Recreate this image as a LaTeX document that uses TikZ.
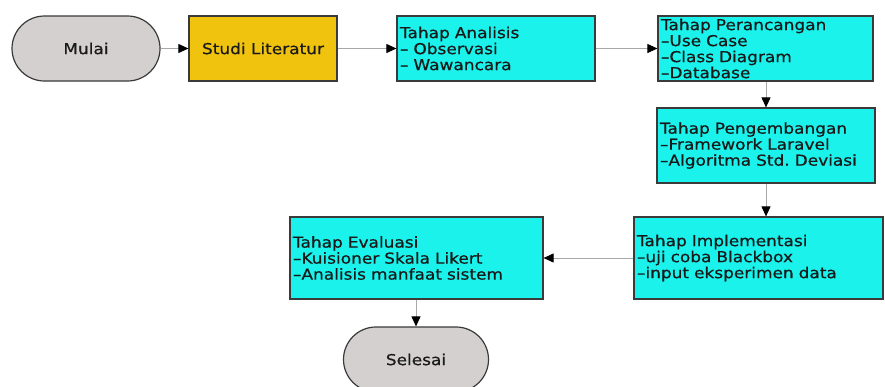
\documentclass[tikz,border=0pt]{standalone}
\usepackage{fontspec}
\setmainfont{DejaVu Sans}[FakeStretch=1.13,FakeBold=0.6]
\usetikzlibrary{shapes.misc,arrows.meta}
\definecolor{termgrey}{HTML}{D3D0CF}
\definecolor{goldbox}{HTML}{F0C30E}
\definecolor{cyanbox}{HTML}{1CF2EC}
\definecolor{edgegrey}{HTML}{3A3A3A}
\definecolor{linegrey}{HTML}{A8A8A8}
\tikzset{
  base/.style={draw=edgegrey, line width=1.2pt, font=\fontsize{15}{16}\selectfont, text=black!90, inner sep=0pt},
  terminal/.style={base, rounded rectangle, fill=termgrey},
  goldstep/.style={base, rectangle, fill=goldbox},
  cyanstep/.style={base, rectangle, fill=cyanbox, align=left, inner xsep=3pt},
  conn/.style={draw=linegrey, line width=0.9pt, -{Triangle[length=10pt,width=9pt,color=black]}}
}
\begin{document}
\begin{tikzpicture}[x=1pt,y=-1pt]
\useasboundingbox[fill=white] (0,0) rectangle (885,386);
\node[terminal, minimum width=148pt, minimum height=65pt] (mulai) at (86,48.5) {Mulai};
\node[goldstep, minimum width=148pt, minimum height=65pt] (studi) at (263,48.5) {Studi Literatur};
\node[cyanstep, minimum width=198pt, minimum height=65pt, text width=192pt] (analisis) at (496,48.5) {Tahap Analisis\\-- Observasi\\-- Wawancara};
\node[cyanstep, minimum width=215pt, minimum height=65pt, text width=209pt] (rancang) at (765.5,48.5) {Tahap Perancangan\\--Use Case\\--Class Diagram\\--Database};
\node[cyanstep, minimum width=218pt, minimum height=75pt, text width=212pt] (kembang) at (766,145.5) {Tahap Pengembangan\\--Framework Laravel\\--Algoritma Std.\ Deviasi};
\node[cyanstep, minimum width=249pt, minimum height=82pt, text width=243pt] (impl) at (758.5,258) {Tahap Implementasi\\--uji coba Blackbox\\--input eksperimen data};
\node[cyanstep, minimum width=253pt, minimum height=82pt, text width=247pt] (eval) at (416.5,258) {Tahap Evaluasi\\--Kuisioner Skala Likert\\--Analisis manfaat sistem};
\node[terminal, minimum width=145pt, minimum height=65pt] (selesai) at (416,359.5) {Selesai};
\draw[conn] (mulai) -- (studi);
\draw[conn] (studi) -- (analisis);
\draw[conn] (analisis) -- (rancang);
\draw[conn] (rancang.south -| kembang.north) -- (kembang.north);
\draw[conn] (kembang.south) -- (kembang.south |- impl.north);
\draw[conn] (impl) -- (eval);
\draw[conn] (eval.south -| selesai.north) -- (selesai.north);
\end{tikzpicture}
\end{document}
